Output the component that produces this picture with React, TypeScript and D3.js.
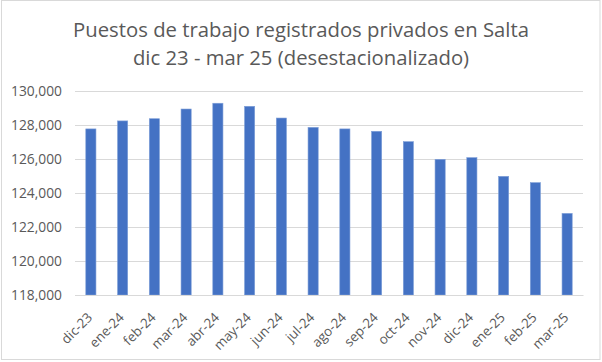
import React, { useRef, useEffect } from 'react';
import * as d3 from 'd3';

// months shown on the x axis
const MONTHS = [
  'dic-23', 'ene-24', 'feb-24', 'mar-24', 'abr-24', 'may-24', 'jun-24', 'jul-24',
  'ago-24', 'sep-24', 'oct-24', 'nov-24', 'dic-24', 'ene-25', 'feb-25', 'mar-25',
];
// registered private jobs, seasonally adjusted
const JOBS = [
  127770, 128240, 128370, 128940, 129280, 129100, 128410, 127860,
  127770, 127630, 127020, 125980, 126080, 124980, 124610, 122800,
];
const Y_TICKS = [118000, 120000, 122000, 124000, 126000, 128000, 130000];
const TITLE = ['Puestos de trabajo registrados privados en Salta', 'dic 23 - mar 25 (desestacionalizado)'];

const W = 602;
const H = 362;
const FONT = "'Open Sans', 'Noto Sans', sans-serif";
const TEXT = '#595959';

export default function App() {
  const svgRef = useRef<SVGSVGElement>(null);

  useEffect(() => {
    if (!svgRef.current) return;
    const svg = d3.select(svgRef.current);
    svg.selectAll('*').remove();

    const margin = { top: 91, right: 19, bottom: 67, left: 75 };
    const w = W - margin.left - margin.right;
    const h = H - margin.top - margin.bottom;

    // outer frame
    svg.append('rect').attr('x', 1.5).attr('y', 0.5).attr('width', W - 3.5).attr('height', H - 3)
      .attr('fill', '#fff').attr('stroke', '#d9d9d9');

    // title
    svg.append('g').selectAll('text').data(TITLE).join('text')
      .attr('x', W / 2).attr('y', (_, i) => 37 + i * 28)
      .attr('text-anchor', 'middle').attr('fill', TEXT)
      .attr('font-family', FONT).attr('font-size', 20.3)
      .text(d => d);

    const g = svg.append('g').attr('transform', `translate(${margin.left},${margin.top})`);

    const x = d3.scaleBand().domain(MONTHS).range([0, w]).paddingInner(0.68).paddingOuter(0.34);
    const y = d3.scaleLinear().domain([118000, 130000]).range([h, 0]);

    // grid
    g.append('g').selectAll('line').data(Y_TICKS).join('line')
      .attr('x1', 0).attr('x2', w)
      .attr('y1', d => Math.round(y(d)) + 0.5).attr('y2', d => Math.round(y(d)) + 0.5)
      .attr('stroke', '#d9d9d9').attr('stroke-width', 1.2);

    // bars
    g.append('g').selectAll('rect').data(JOBS).join('rect')
      .attr('x', (_, i) => x(MONTHS[i])!)
      .attr('width', x.bandwidth())
      .attr('y', d => y(d))
      .attr('height', d => h - y(d))
      .attr('fill', '#4472c4')
      .attr('stroke', '#7f9fd8').attr('stroke-width', 0.6);

    // y axis
    g.append('g')
      .call(d3.axisLeft(y).tickValues(Y_TICKS).tickFormat(d3.format(',')).tickSize(0).tickPadding(13))
      .call(a => a.select('.domain').remove())
      .selectAll('text').attr('fill', TEXT).attr('font-size', 13.8).attr('font-family', FONT);

    // x axis
    g.append('g').attr('transform', `translate(0,${h})`)
      .call(d3.axisBottom(x).tickSize(0).tickPadding(0))
      .call(a => a.select('.domain').attr('stroke', '#d9d9d9').attr('stroke-width', 1.2))
      .selectAll('text')
      .attr('fill', TEXT).attr('font-size', 13.3).attr('font-family', FONT)
      .attr('text-anchor', 'end').attr('dy', '0.35em')
      .attr('transform', `translate(${x.bandwidth() / 2 - 6},20) rotate(-45)`);
  }, []);

  return (
    <svg ref={svgRef} width={W} height={H}
      style={{ position: 'absolute', left: 0, top: 0, display: 'block' }} />
  );
}
